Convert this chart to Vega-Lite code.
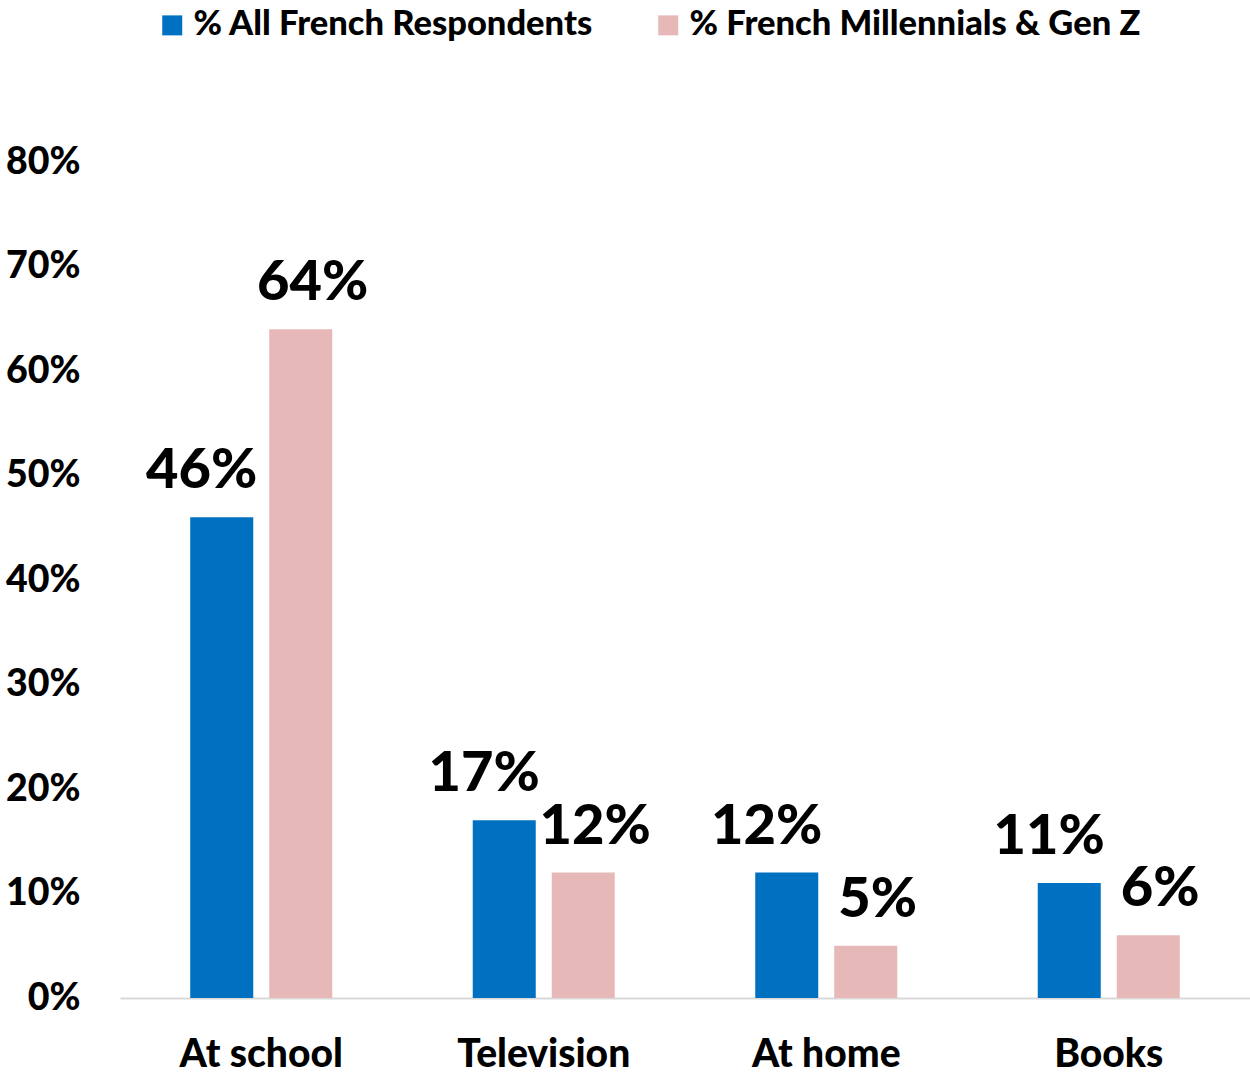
{
  "$schema": "https://vega.github.io/schema/vega-lite/v6.json",
  "width": 1130,
  "height": 836,
  "autosize": {"type": "none"},
  "padding": {"left": 120, "top": 162, "right": 0, "bottom": 76},
  "background": "white",
  "config": {
    "view": {"stroke": null},
    "font": "Lato"
  },
  "data": {
    "values": [
      {"category": "At school", "series": "% All French Respondents", "value": 0.46},
      {"category": "At school", "series": "% French Millennials & Gen Z", "value": 0.64},
      {"category": "Television", "series": "% All French Respondents", "value": 0.17},
      {"category": "Television", "series": "% French Millennials & Gen Z", "value": 0.12},
      {"category": "At home", "series": "% All French Respondents", "value": 0.12},
      {"category": "At home", "series": "% French Millennials & Gen Z", "value": 0.05},
      {"category": "Books", "series": "% All French Respondents", "value": 0.11},
      {"category": "Books", "series": "% French Millennials & Gen Z", "value": 0.06}
    ]
  },
  "encoding": {
    "x": {
      "field": "category",
      "type": "nominal",
      "sort": ["At school", "Television", "At home", "Books"],
      "scale": {"paddingInner": 0, "paddingOuter": 0},
      "axis": {
        "title": null,
        "labelAngle": 0,
        "labelFont": "Lato",
        "labelFontWeight": 900,
        "labelFontSize": 39,
        "labelColor": "black",
        "labelPadding": 37,
        "ticks": false,
        "domainColor": "#D9D9D9",
        "domainWidth": 2
      }
    },
    "xOffset": {
      "field": "series",
      "type": "nominal",
      "scale": {"paddingInner": 0.2025, "paddingOuter": 0.889}
    },
    "y": {
      "field": "value",
      "type": "quantitative",
      "scale": {"domain": [0, 0.8], "nice": false},
      "axis": {
        "title": null,
        "format": ".0%",
        "values": [0, 0.1, 0.2, 0.3, 0.4, 0.5, 0.6, 0.7, 0.8],
        "grid": false,
        "domain": false,
        "ticks": false,
        "labelFont": "Lato",
        "labelFontWeight": 900,
        "labelFontSize": 37.5,
        "labelColor": "black",
        "labelPadding": 40
      }
    }
  },
  "layer": [
    {
      "mark": {"type": "bar"},
      "encoding": {
        "color": {
          "field": "series",
          "type": "nominal",
          "scale": {
            "domain": ["% All French Respondents", "% French Millennials & Gen Z"],
            "range": ["#0070C0", "#E6B8B7"]
          },
          "legend": {
            "title": null,
            "orient": "none",
            "direction": "horizontal",
            "legendX": 35,
            "legendY": -154,
            "symbolType": "square",
            "symbolSize": 400,
            "symbolStrokeWidth": 0,
            "labelFont": "Lato",
            "labelFontWeight": 900,
            "labelFontSize": 34.5,
            "labelColor": "black",
            "labelOffset": 4,
            "columnPadding": 57,
            "labelLimit": 600
          }
        }
      }
    },
    {
      "transform": [{"filter": "datum.series === '% All French Respondents'"}],
      "mark": {"type": "text", "font": "Lato", "fontWeight": 900, "fontSize": 56, "baseline": "alphabetic", "dy": -29, "dx": -20, "color": "black"},
      "encoding": {"text": {"field": "value", "type": "quantitative", "format": ".0%"}}
    },
    {
      "transform": [{"filter": "datum.series === '% French Millennials & Gen Z'"}],
      "mark": {"type": "text", "font": "Lato", "fontWeight": 900, "fontSize": 56, "baseline": "alphabetic", "dy": -29, "dx": 12, "color": "black"},
      "encoding": {"text": {"field": "value", "type": "quantitative", "format": ".0%"}}
    }
  ]
}
